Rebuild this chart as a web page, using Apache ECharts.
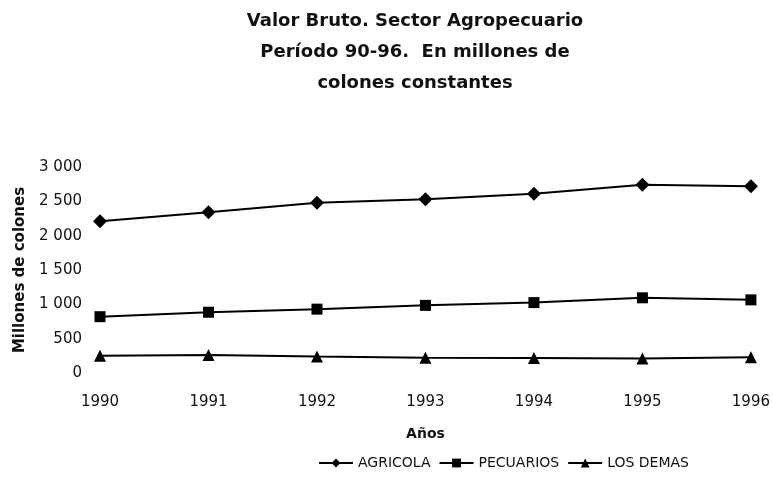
<!DOCTYPE html>
<html>
<head>
<meta charset="utf-8">
<script src="https://cdn.jsdelivr.net/npm/echarts@6/dist/echarts.min.js"></script>
<style>
  html, body { margin: 0; padding: 0; background: #fff; }
  #chart { width: 773px; height: 492px; }
</style>
</head>
<body>
<div id="chart"></div>
<script>
// años
var years = ['1990', '1991', '1992', '1993', '1994', '1995', '1996'];
// valores (millones de colones)
var agricola = [2210, 2340, 2480, 2530, 2610, 2740, 2720];
var pecuarios = [820, 885, 930, 985, 1025, 1095, 1065];
var losDemas = [250, 262, 240, 222, 218, 212, 228];

var chart = echarts.init(document.getElementById('chart'));

var font = 'DejaVu Sans, Verdana, sans-serif';

var option = {
  backgroundColor: '#fff',
  animation: false,
  title: {
    text: 'Valor Bruto. Sector Agropecuario\nPeríodo 90-96.  En millones de\ncolones constantes',
    left: 410,
    top: 1,
    textAlign: 'center',
    textStyle: {
      fontFamily: font,
      fontSize: 18,
      fontWeight: 'bold',
      color: '#111',
      lineHeight: 31
    }
  },
  legend: {
    left: 318,
    top: 456,
    padding: 0,
    itemWidth: 34,
    itemHeight: 11,
    itemGap: 8,
    textStyle: { fontFamily: font, fontSize: 14, color: '#111' },
    data: ['AGRICOLA', 'PECUARIOS', 'LOS DEMAS']
  },
  grid: {
    left: 100,
    right: 21,
    top: 167,
    bottom: 119
  },
  xAxis: {
    type: 'category',
    data: years,
    boundaryGap: false,
    name: 'Años',
    nameLocation: 'middle',
    nameGap: 54,
    nameTextStyle: { fontFamily: font, fontSize: 14, fontWeight: 'bold', color: '#111' },
    axisLine: { show: false },
    axisTick: { show: false },
    axisLabel: { fontFamily: font, fontSize: 15, color: '#111', margin: 22 },
    splitLine: { show: false }
  },
  yAxis: {
    type: 'value',
    min: 0,
    max: 3000,
    interval: 500,
    name: 'Millones de colones',
    nameLocation: 'middle',
    nameGap: 72,
    nameTextStyle: { fontFamily: font, fontSize: 15, fontWeight: 'bold', color: '#111' },
    axisLine: { show: false },
    axisTick: { show: false },
    axisLabel: {
      fontFamily: font,
      fontSize: 15,
      color: '#111',
      margin: 18,
      formatter: function (v) {
        return String(v).replace(/\B(?=(\d{3})+(?!\d))/g, ' ');
      }
    },
    splitLine: { show: false }
  },
  series: [
    {
      name: 'AGRICOLA',
      type: 'line',
      data: agricola,
      symbol: 'diamond',
      symbolSize: 14,
      itemStyle: { color: '#000' },
      lineStyle: { color: '#000', width: 2 }
    },
    {
      name: 'PECUARIOS',
      type: 'line',
      data: pecuarios,
      symbol: 'rect',
      symbolSize: 11,
      itemStyle: { color: '#000' },
      lineStyle: { color: '#000', width: 2 }
    },
    {
      name: 'LOS DEMAS',
      type: 'line',
      data: losDemas,
      symbol: 'triangle',
      symbolSize: 12,
      itemStyle: { color: '#000' },
      lineStyle: { color: '#000', width: 2 }
    }
  ]
};

chart.setOption(option);
</script>
</body>
</html>
